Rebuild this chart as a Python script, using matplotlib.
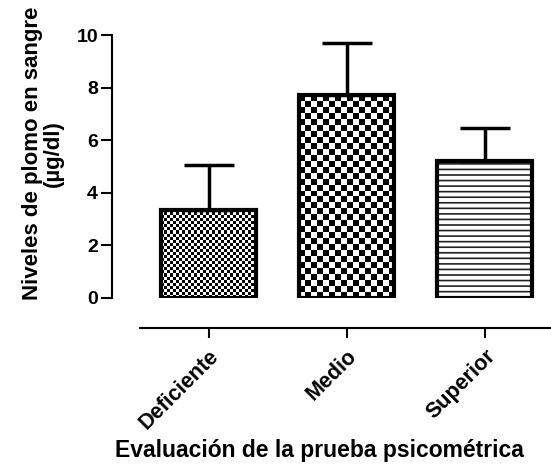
import numpy as np
import matplotlib
matplotlib.use('Agg')
import matplotlib.pyplot as plt

plt.rcParams['font.family'] = ['Liberation Sans', 'DejaVu Sans']
plt.rcParams['font.weight'] = 'bold'
plt.rcParams['hatch.linewidth'] = 1.2

# Data
categories = ['Deficiente', 'Medio', 'Superior']
means = [3.35, 7.7, 5.2]
sd_upper = [1.7, 2.0, 1.25]

# fill style per bar: checker size in px, or None for horizontal lines
checker_px = [3, 6, None]

fig = plt.figure(figsize=(5.51, 4.68), dpi=100)
ax = fig.add_axes([112/551, 170/468, 439/551, 263/468])

x = np.arange(len(categories))
width = 0.69
ax.set_xlim(-0.70, 2.48)
ax.set_ylim(0, 10)

# px per data unit, used to size the checker cells
px_x = 439 / (2.48 + 0.70)
px_y = 263 / 10.0

for xi, m, c in zip(x, means, checker_px):
    left = xi - width / 2
    if c is None:
        ax.bar(xi, m, width, color='white', edgecolor='#222222', hatch='---',
               linewidth=0, zorder=1)
    else:
        nx = max(1, int(round(width * px_x / c)))
        ny = max(1, int(round(m * px_y / c)))
        board = (np.add.outer(np.arange(ny), np.arange(nx)) % 2).astype(float)
        ax.imshow(board, extent=[left, left + width, 0, m], cmap='gray',
                  interpolation='nearest', aspect='auto', zorder=1, vmin=0, vmax=1)
    ax.bar(xi, m, width, fill=False, edgecolor='black', linewidth=3, zorder=3)

ax.errorbar(x, means, yerr=[np.zeros(len(means)), sd_upper], fmt='none',
            ecolor='black', elinewidth=2.5, capsize=18, capthick=2.5, zorder=2)

ax.set_xlim(-0.70, 2.48)
ax.set_ylim(0, 10)

for s in ['top', 'right']:
    ax.spines[s].set_visible(False)
ax.spines['left'].set_linewidth(1.5)
ax.spines['bottom'].set_linewidth(1.5)
ax.spines['bottom'].set_position(('outward', 21.6))
ax.spines['bottom'].set_bounds(-0.5, 2.48)
ax.spines['left'].set_bounds(0, 10)

ax.set_yticks([0, 2, 4, 6, 8, 10])
ax.tick_params(axis='y', length=8, width=1.5, labelsize=14, pad=2)
ax.tick_params(axis='x', length=7, width=1.5, labelsize=15.5, pad=6)
ax.set_xticks(x)
ax.set_xticklabels(categories, rotation=45, ha='right', rotation_mode='anchor',
                   fontweight='bold')
for lab in ax.get_yticklabels():
    lab.set_fontweight('bold')

ax.set_ylabel('Niveles de plomo en sangre\n(\u00b5g/dl)', fontsize=16,
              fontweight='bold', linespacing=1.0)
ax.yaxis.set_label_coords(-0.109, 0.55)
ax.set_xlabel('Evaluación de la prueba psicométrica', fontsize=16.5,
              fontweight='bold')
ax.xaxis.set_label_coords(0.472, -0.535)

plt.savefig('out.png', dpi=100)
plt.close()
